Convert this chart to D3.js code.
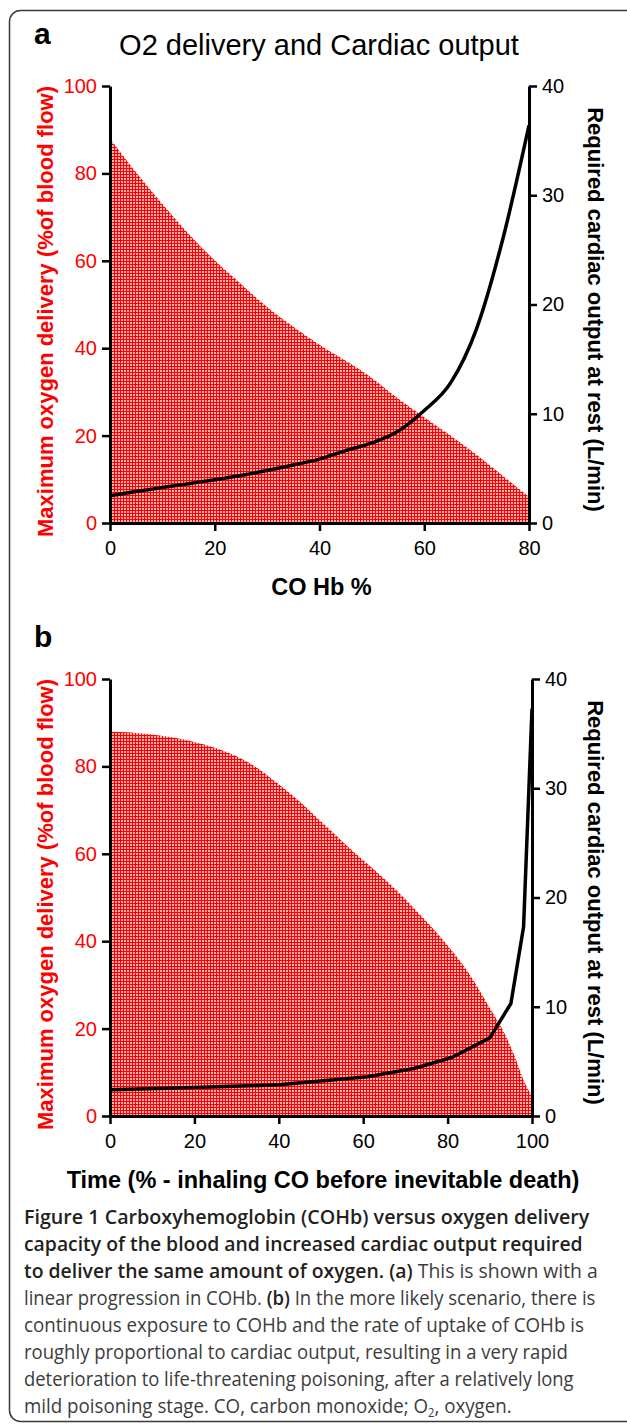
<!DOCTYPE html>
<html>
<head>
<meta charset="utf-8">
<script src="https://cdn.jsdelivr.net/npm/d3@7"></script>
<style>
  body { margin: 0; background: #fff; }
  svg { display: block; }
</style>
</head>
<body>
<svg id="fig" width="627" height="1424"></svg>
<script>
// panel a: linear rise of COHb
const coHbA       = [0, 5, 10, 15, 20, 25, 30, 35, 40, 45, 50, 55, 60, 65, 70, 75, 80];
const o2DeliveryA = [88, 80.2, 73, 66.2, 60.1, 54.7, 49.4, 44.9, 40.8, 37.1, 33.2, 28.5, 24.2, 20, 15.6, 10.8, 6];
const cardiacA    = [2.5, 2.89, 3.24, 3.6, 3.96, 4.35, 4.8, 5.31, 5.85, 6.63, 7.33, 8.4, 10.3, 12.8, 17.8, 26, 36.4];
const xTicksA     = [0, 20, 40, 60, 80];

// panel b: time course while inhaling CO
const timeB       = [0, 10, 20, 30, 35, 40, 45, 50, 55, 60, 65, 70, 75, 80, 85, 90, 93, 96, 98, 100];
const o2DeliveryB = [88, 87.3, 85.6, 82.3, 79.6, 75.9, 71.9, 67.4, 62.9, 58.5, 54.3, 49.6, 44.5, 39, 32.7, 24.7, 19.8, 13.4, 8.2, 4.5];
const timeCardB   = [0, 20, 40, 50, 61, 72, 81, 90, 95, 98, 100];
const cardiacB    = [2.4, 2.6, 2.85, 3.2, 3.6, 4.35, 5.35, 7.15, 10.3, 17.3, 37.3];
const xTicksB     = [0, 20, 40, 60, 80, 100];

const leftTicks  = [0, 20, 40, 60, 80, 100];
const rightTicks = [0, 10, 20, 30, 40];

const leftTitle  = "Maximum oxygen delivery (%of blood flow)";
const rightTitle = "Required cardiac output at rest (L/min)";

const ARIAL = "'Liberation Sans', Arial, sans-serif";
const svg = d3.select("#fig");

// red dotted fill like the printed figure
const pat = svg.append("defs").append("pattern")
    .attr("id", "dots")
    .attr("width", 3).attr("height", 3)
    .attr("patternUnits", "userSpaceOnUse");
pat.append("rect").attr("width", 3).attr("height", 3).attr("fill", "#ff0000");
pat.append("rect").attr("x", 1).attr("y", 1).attr("width", 2).attr("height", 2).attr("fill", "#ffb4b4");

// figure frame
svg.append("rect")
    .attr("x", 9.5).attr("y", 10.5)
    .attr("width", 660).attr("height", 1411)
    .attr("rx", 11)
    .attr("fill", "none")
    .attr("stroke", "#3a3a3a")
    .attr("stroke-width", 1.5);

function styleAxis(g, color) {
    g.attr("font-family", ARIAL).attr("font-size", 20);
    g.select(".domain").attr("stroke", "#000").attr("stroke-width", 3);
    g.selectAll(".tick line").attr("stroke", "#000").attr("stroke-width", 2.5);
    g.selectAll(".tick text").attr("fill", color);
}

function drawPanel(o) {
    const x  = d3.scaleLinear().domain(o.xDomain).range([110, o.xRight]);
    const yL = d3.scaleLinear().domain([0, 100]).range([o.bottom, o.top]);
    const yR = d3.scaleLinear().domain([0, 40]).range([o.bottom, o.top]);
    const g = svg.append("g");

    // oxygen delivery area
    const areaData = o.xs.map((v, i) => [v, o.o2[i]]);
    g.append("path")
        .datum(areaData)
        .attr("fill", "url(#dots)")
        .attr("d", d3.area()
            .x(d => x(d[0]))
            .y0(yL(0))
            .y1(d => yL(d[1]))
            .curve(d3.curveMonotoneX));

    // axes
    g.append("g")
        .attr("transform", `translate(0,${o.bottom})`)
        .call(d3.axisBottom(x).tickValues(o.xTicks).tickSize(8).tickSizeOuter(0).tickPadding(10))
        .call(a => styleAxis(a, "#000"));

    g.append("g")
        .attr("transform", `translate(${x.range()[0]},0)`)
        .call(d3.axisLeft(yL).tickValues(leftTicks).tickSize(8).tickSizeOuter(0).tickPadding(5))
        .call(a => styleAxis(a, "#ff0000"));

    g.append("g")
        .attr("transform", `translate(${x.range()[1]},0)`)
        .call(d3.axisRight(yR).tickValues(rightTicks).tickSize(8).tickSizeOuter(0).tickPadding(5))
        .call(a => styleAxis(a, "#000"));

    // cardiac output line
    const lineData = o.lineX.map((v, i) => [v, o.card[i]]);
    g.append("path")
        .datum(lineData)
        .attr("fill", "none")
        .attr("stroke", "#000")
        .attr("stroke-width", 3.5)
        .attr("stroke-linejoin", "round")
        .attr("d", d3.line()
            .x(d => x(d[0]))
            .y(d => yR(d[1]))
            .curve(o.curve));

    // axis titles
    const midY = (o.top + o.bottom) / 2;
    g.append("text")
        .attr("transform", `translate(53,${midY + 7}) rotate(-90)`)
        .attr("text-anchor", "middle")
        .attr("font-family", ARIAL).attr("font-weight", "bold").attr("font-size", 22)
        .attr("fill", "#ff0000")
        .text(leftTitle);

    g.append("text")
        .attr("transform", `translate(588,${midY + 5}) rotate(90)`)
        .attr("text-anchor", "middle")
        .attr("font-family", ARIAL).attr("font-weight", "bold").attr("font-size", 22)
        .attr("fill", "#000")
        .text(rightTitle);

    g.append("text")
        .attr("x", (x.range()[0] + x.range()[1]) / 2 + 2)
        .attr("y", o.bottom + 72)
        .attr("text-anchor", "middle")
        .attr("font-family", ARIAL).attr("font-weight", "bold").attr("font-size", 23.5)
        .attr("fill", "#000")
        .text(o.xTitle);

    // panel letter
    g.append("text")
        .attr("x", 34).attr("y", o.letterY)
        .attr("font-family", ARIAL).attr("font-weight", "bold").attr("font-size", 30)
        .attr("fill", "#000")
        .text(o.letter);
}

drawPanel({
    letter: "a", letterY: 44,
    xDomain: [0, 80], xRight: 529, top: 86, bottom: 523,
    xs: coHbA, o2: o2DeliveryA, lineX: coHbA, card: cardiacA,
    xTicks: xTicksA, xTitle: "CO Hb %", curve: d3.curveMonotoneX
});

drawPanel({
    letter: "b", letterY: 647,
    xDomain: [0, 100], xRight: 532, top: 679, bottom: 1116,
    xs: timeB, o2: o2DeliveryB, lineX: timeCardB, card: cardiacB,
    xTicks: xTicksB, xTitle: "Time (% - inhaling CO before inevitable death)", curve: d3.curveLinear
});

// chart title of panel a
svg.append("text")
    .attr("x", 319).attr("y", 55)
    .attr("text-anchor", "middle")
    .attr("font-family", ARIAL).attr("font-size", 29)
    .attr("fill", "#000")
    .text("O2 delivery and Cardiac output");

// caption
const captionLines = [
    [["Figure 1 Carboxyhemoglobin (COHb) versus oxygen delivery", "b"]],
    [["capacity of the blood and increased cardiac output required", "b"]],
    [["to deliver the same amount of oxygen. (a)", "b"], [" This is shown with a", "r"]],
    [["linear progression in COHb. ", "r"], ["(b)", "b"], [" In the more likely scenario, there is", "r"]],
    [["continuous exposure to COHb and the rate of uptake of COHb is", "r"]],
    [["roughly proportional to cardiac output, resulting in a very rapid", "r"]],
    [["deterioration to life-threatening poisoning, after a relatively long", "r"]],
    [["mild poisoning stage. CO, carbon monoxide; O", "r"], ["2", "s"], [", oxygen.", "r"]]
];
// right edge of each printed caption line
const captionEnds = [590, 583, 598, 596, 584, 568, 574, 512];

captionLines.forEach((segs, i) => {
    const row = svg.append("g");
    const t = row.append("text")
        .attr("x", 0)
        .attr("y", 0)
        .attr("font-family", "'Open Sans', 'Noto Sans', sans-serif")
        .attr("font-size", 20)
        .attr("fill", "#3c3c3c");
    segs.forEach(([str, kind], j) => {
        const s = t.append("tspan").text(str);
        if (kind === "b") s.attr("font-weight", 600).attr("fill", "#231f20");
        if (kind === "s") s.attr("font-size", 12).attr("dy", 4);
        if (j > 0 && segs[j - 1][1] === "s") s.attr("dy", -4);
    });
    // squeeze each row to the printed column width
    const sx = (captionEnds[i] - 24) / t.node().getComputedTextLength();
    row.attr("transform", `translate(24,${1224 + i * 27}) scale(${sx},1)`);
});
</script>
</body>
</html>
